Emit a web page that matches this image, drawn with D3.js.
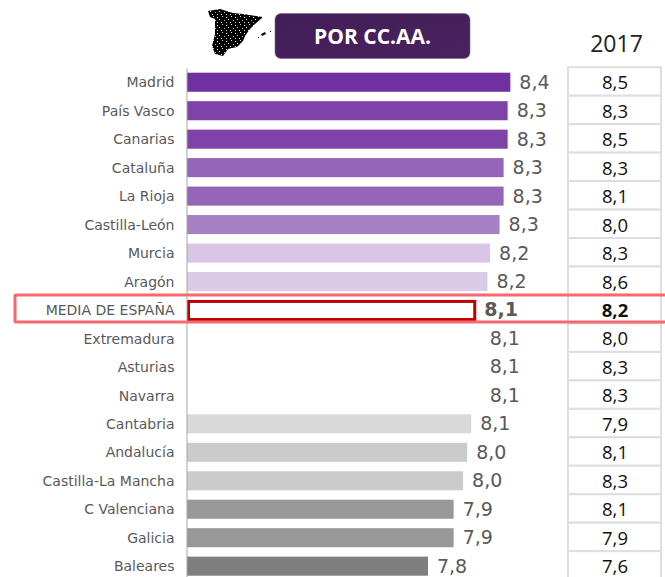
<!DOCTYPE html>
<html><head><meta charset="utf-8">
<script src="https://cdn.jsdelivr.net/npm/d3@7"></script>
<style>html,body{margin:0;padding:0;background:#fff;overflow:hidden}svg{display:block}</style>
</head><body><svg id="c" width="665" height="577"></svg>
<script>
const categories=["Madrid","País Vasco","Canarias","Cataluña","La Rioja","Castilla-León","Murcia","Aragón","MEDIA DE ESPAÑA","Extremadura","Asturias","Navarra","Cantabria","Andalucía","Castilla-La Mancha","C Valenciana","Galicia","Baleares"];
const values2018=[8.36,8.34,8.34,8.31,8.31,8.28,8.21,8.19,8.10,8.14,8.14,8.14,8.07,8.04,8.01,7.94,7.94,7.75];
const labels2018=["8,4","8,3","8,3","8,3","8,3","8,3","8,2","8,2","8,1","8,1","8,1","8,1","8,1","8,0","8,0","7,9","7,9","7,8"];
const labels2017=["8,5","8,3","8,5","8,3","8,1","8,0","8,3","8,6","8,2","8,0","8,3","8,3","7,9","8,1","8,3","8,1","7,9","7,6"];
const barColors=["#7030a0","#7f42a8","#7f42a8","#9465b8","#9465b8","#a781c6","#d9c5e5","#dccbe7","#ffffff","#ffffff","#ffffff","#ffffff","#d9d9d9","#cbcbcb","#cbcbcb","#989898","#989898","#7f7f7f"];
const titleText="POR CC.AA.", yearText="2017", highlight="MEDIA DE ESPAÑA";

const svg=d3.select("#c");
const x=d3.scaleLinear().domain([5.965,8.35]).range([187,509]);
const y=d3.scaleBand().domain(categories).range([68,580.4]).paddingInner(0.33).paddingOuter(0.165);
const color=d3.scaleOrdinal().domain(categories).range(barColors);
const rows=categories.map((c,i)=>({c,v:values2018[i],l:labels2018[i],p:labels2017[i]}));
const cy=c=>y(c)+y.bandwidth()/2;

// Map icon
const defs=svg.append("defs");
const g=defs.append("linearGradient").attr("id","tg").attr("x1",0).attr("x2",1).attr("y1",0).attr("y2",1);
g.append("stop").attr("offset",0).attr("stop-color","#421e57");
g.append("stop").attr("offset",1).attr("stop-color","#4a215f");
const pat=defs.append("pattern").attr("id","sp").attr("width",9).attr("height",8).attr("patternUnits","userSpaceOnUse");
pat.append("rect").attr("width",9).attr("height",8).attr("fill","#000");
[[1,1,"#fff"],[6,0,"#ddd"],[3,3,"#eee"],[8,4,"#bbb"],[1,6,"#ccc"],[5,6,"#fff"]].forEach(p=>
  pat.append("rect").attr("x",p[0]).attr("y",p[1]).attr("width",1).attr("height",1).attr("fill",p[2]));
svg.append("path").attr("fill","url(#sp)")
 .attr("d","M208 11 L220 9 L233 13 L243 14 L263 17 L255 24 L250 29 L245 36 L243 41 L237 47 L228 49 L223 56 L215 54 L212 46 L215 34 L215 19 L210 17 Z");
svg.append("path").attr("fill","#000").attr("d","M261 34 L265 32 L266 34 L262 36 Z M270 31 L271 31 L271 32 L270 32 Z M258 37 L259 37 L259 38 L258 38 Z");

// Title box
svg.append("rect").attr("x",275).attr("y",13.5).attr("width",195).attr("height",45).attr("rx",6).attr("fill","url(#tg)").attr("stroke","#7d6a8d").attr("stroke-width",0.6);
svg.append("text").attr("x",372.5).attr("y",44).attr("text-anchor","middle").attr("fill","#fff").attr("font-family","'Open Sans',sans-serif").attr("font-weight",700).attr("font-size",21).text(titleText);
svg.append("text").attr("x",616.5).attr("y",52).attr("text-anchor","middle").attr("fill","#222").attr("font-family","'Open Sans',sans-serif").attr("font-size",23).text(yearText);

// Right table
const tableX=568,tableW=93;
rows.forEach(d=>{
  svg.append("rect").attr("x",tableX).attr("y",cy(d.c)-15).attr("width",tableW).attr("height",y.step()).attr("fill","#fff").attr("stroke","#dedede").attr("stroke-width",2);
});
svg.append("g").selectAll("text").data(rows).join("text")
 .attr("x",615).attr("y",d=>cy(d.c)+7).attr("text-anchor","middle").attr("fill","#111")
 .attr("font-family","'Open Sans',sans-serif").attr("font-size",18.5)
 .attr("font-weight",d=>d.c===highlight?700:400).text(d=>d.p);

// Bars
svg.append("g").selectAll("rect").data(rows.filter(d=>d.c!==highlight)).join("rect")
 .attr("x",x.range()[0]).attr("y",d=>y(d.c)).attr("width",d=>x(d.v)-x.range()[0]).attr("height",y.bandwidth()).attr("fill",d=>color(d.c));
const m=rows.find(d=>d.c===highlight);
svg.append("rect").attr("x",188.5).attr("y",y(m.c)+1).attr("width",x(m.v)-188.5-0.5).attr("height",y.bandwidth()-1).attr("fill","#fff").attr("stroke","#c00000").attr("stroke-width",3);

// Value labels
svg.append("g").selectAll("text").data(rows).join("text")
 .attr("x",d=>x(d.v)+9).attr("y",d=>cy(d.c)+6.5).attr("fill","#595959")
 .attr("font-family","'DejaVu Sans',sans-serif").attr("font-size",19)
 .attr("font-weight",d=>d.c===highlight?700:400).text(d=>d.l);

// Category axis
const ax=svg.append("g").attr("transform","translate(186.5,0)").call(d3.axisLeft(y).tickSize(0).tickPadding(12));
ax.select(".domain").attr("stroke","#a6a6a6").attr("stroke-width",1);
ax.selectAll("text").attr("fill","#595959").attr("font-family","'DejaVu Sans',sans-serif").attr("font-size",14).attr("dy","0.37em");

// Highlight frame
svg.append("rect").attr("x",15).attr("y",295).attr("width",670).attr("height",27).attr("fill","none").attr("stroke","#f4696e").attr("stroke-width",3).attr("rx",1);
</script></body></html>
